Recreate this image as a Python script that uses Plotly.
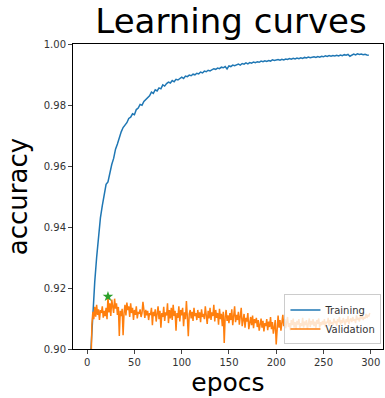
import plotly.graph_objects as go

train_epochs = list(range(0, 300, 2))
train_acc = [
    0.860, 0.885, 0.900, 0.912, 0.922, 0.930, 0.937, 0.943, 0.947, 0.951,
    0.954, 0.9548, 0.958, 0.9605, 0.9625, 0.9655, 0.9672, 0.9695, 0.9712, 0.9726,
    0.9735, 0.9742, 0.9756, 0.9760, 0.9771, 0.9768, 0.9785, 0.9790, 0.9802, 0.9799,
    0.9812, 0.9818, 0.9822, 0.9830, 0.9842, 0.9838, 0.9850, 0.9846, 0.9856, 0.9853,
    0.9866, 0.9862, 0.9870, 0.9875, 0.9872, 0.9880, 0.9876, 0.9884, 0.9882, 0.9888,
    0.9891, 0.9887, 0.9895, 0.9893, 0.9898, 0.9896, 0.9901, 0.9899, 0.9904, 0.9902,
    0.9908, 0.9905, 0.9911, 0.9909, 0.9914, 0.9912, 0.9916, 0.9919, 0.9917, 0.9921,
    0.9919, 0.9924, 0.9922, 0.9926, 0.9918, 0.9928, 0.9926, 0.9931, 0.9929, 0.9932,
    0.9934, 0.9931, 0.9936, 0.9934, 0.9938, 0.9935, 0.9939, 0.9937, 0.9941, 0.9939,
    0.9942, 0.9940, 0.9944, 0.9942, 0.9945, 0.9943, 0.9946, 0.9944, 0.9948, 0.9946,
    0.9947, 0.9949, 0.9947, 0.9950, 0.9948, 0.9951, 0.9949, 0.9952, 0.9950, 0.9953,
    0.9951, 0.9954, 0.9952, 0.9955, 0.9953, 0.9956, 0.9954, 0.9957, 0.9955, 0.9957,
    0.9958, 0.9956, 0.9959, 0.9957, 0.9960, 0.9958, 0.9961, 0.9959, 0.9962, 0.9960,
    0.9962, 0.9961, 0.9963, 0.9961, 0.9964, 0.9962, 0.9965, 0.9963, 0.9966, 0.9960,
    0.9965, 0.9967, 0.9964, 0.9968, 0.9966, 0.9967, 0.9965, 0.9966, 0.9964, 0.9963,
]

val_epochs = list(range(3, 300))
val_acc = [
    0.880, 0.897, 0.9080, 0.9122, 0.9098, 0.9138, 0.9106,
    0.9145, 0.9112, 0.9130, 0.9095, 0.9128, 0.9118, 0.9140, 0.9103, 0.9125, 0.9108,
    0.9135, 0.9098, 0.9172, 0.9120, 0.9150, 0.9108, 0.9162, 0.9140, 0.9118, 0.9165,
    0.9132, 0.9150, 0.9112, 0.9138, 0.9043, 0.9125, 0.9108, 0.9132, 0.9045, 0.9118,
    0.9145, 0.9110, 0.9152, 0.9128, 0.9140, 0.9105, 0.9150, 0.9118, 0.9135, 0.9095,
    0.9128, 0.9112, 0.9140, 0.9100, 0.9122, 0.9115, 0.9130, 0.9105, 0.9118, 0.9155,
    0.9120, 0.9102, 0.9128, 0.9110, 0.9125, 0.9095, 0.9118, 0.9112, 0.9135, 0.9078,
    0.9122, 0.9108, 0.9130, 0.9090, 0.9115, 0.9140, 0.9098, 0.9125, 0.9070, 0.9118,
    0.9105, 0.9138, 0.9092, 0.9120, 0.9110, 0.9150, 0.9085, 0.9128, 0.9100, 0.9135,
    0.9095, 0.9145, 0.9108, 0.9125, 0.9060, 0.9118, 0.9102, 0.9140, 0.9090, 0.9128,
    0.9110, 0.9135, 0.9075, 0.9120, 0.9098, 0.9157, 0.9105, 0.9042, 0.9115, 0.9128,
    0.9100, 0.9122, 0.9092, 0.9135, 0.9108, 0.9118, 0.9095, 0.9128, 0.9102, 0.9120,
    0.9088, 0.9130, 0.9105, 0.9115, 0.9098, 0.9140, 0.9110, 0.9082, 0.9125, 0.9100,
    0.9135, 0.9095, 0.9120, 0.9108, 0.9145, 0.9090, 0.9128, 0.9102, 0.9118, 0.9080,
    0.9132, 0.9098, 0.9115, 0.9075, 0.9122, 0.9020, 0.9105, 0.9128, 0.9092, 0.9110,
    0.9085, 0.9118, 0.9095, 0.9130, 0.9078, 0.9105, 0.9140, 0.9088, 0.9112, 0.9095,
    0.9122, 0.9080, 0.9108, 0.9135, 0.9075, 0.9098, 0.9115, 0.9070, 0.9102, 0.9090,
    0.9118, 0.9065, 0.9095, 0.9105, 0.9078, 0.9110, 0.9068, 0.9098, 0.9085, 0.9102,
    0.9072, 0.9095, 0.9060, 0.9088, 0.9100, 0.9070, 0.9092, 0.9058, 0.9085, 0.9075,
    0.9098, 0.9062, 0.9090, 0.9072, 0.9105, 0.9065, 0.9088, 0.9050, 0.9080, 0.9095,
    0.9015, 0.9085, 0.9110, 0.9070, 0.9095, 0.9060, 0.9088, 0.9112, 0.9075, 0.9098,
    0.9068, 0.9090, 0.9105, 0.9072, 0.9085, 0.9062, 0.9095, 0.9078, 0.9100, 0.9070,
    0.9088, 0.9065, 0.9092, 0.9080, 0.9098, 0.9068, 0.9085, 0.9075, 0.9102, 0.9070,
    0.9090, 0.9078, 0.9095, 0.9065, 0.9088, 0.9100, 0.9072, 0.9092, 0.9080, 0.9098,
    0.9075, 0.9090, 0.9068, 0.9095, 0.9082, 0.9100, 0.9070, 0.9088, 0.9078, 0.9092,
    0.9080, 0.9098, 0.9072, 0.9090, 0.9085, 0.9102, 0.9075, 0.9095, 0.9082, 0.9088,
    0.9078, 0.9100, 0.9085, 0.9092, 0.9075, 0.9098, 0.9088, 0.9105, 0.9080, 0.9095,
    0.9085, 0.9102, 0.9090, 0.9078, 0.9098, 0.9088, 0.9108, 0.9082, 0.9095, 0.9100,
    0.9088, 0.9105, 0.9092, 0.9098, 0.9085, 0.9110, 0.9095, 0.9102, 0.9090, 0.9108,
    0.9098, 0.9112, 0.9095, 0.9105, 0.9100, 0.9115, 0.9102, 0.9110, 0.9108, 0.9118,
]

best_epoch = [22]
best_acc = [0.9172]

x_ticks = [0, 50, 100, 150, 200, 250, 300]
y_ticks = [0.90, 0.92, 0.94, 0.96, 0.98, 1.00]

fig = go.Figure()
fig.add_trace(go.Scatter(x=train_epochs, y=train_acc, mode="lines", name="Training",
                         line=dict(color="#1f77b4", width=1.5)))
fig.add_trace(go.Scatter(x=val_epochs, y=val_acc, mode="lines", name="Validation",
                         line=dict(color="#ff7f0e", width=1.5)))
fig.add_trace(go.Scatter(x=best_epoch, y=best_acc, mode="markers", showlegend=False,
                         marker=dict(symbol="star", color="#2ca02c", size=8)))

fig.update_layout(
    width=385, height=398,
    margin=dict(l=73, r=2, t=44, b=49),
    paper_bgcolor="white", plot_bgcolor="white",
    font=dict(family="DejaVu Sans", color="#333333", size=10),
    title=dict(text="Learning curves", x=0.6, xanchor="center", xref="container",
               y=0.978, yanchor="top", yref="container",
               font=dict(size=34, color="black", family="DejaVu Sans")),
    legend=dict(x=0.995, xanchor="right", y=0.015, yanchor="bottom",
                bgcolor="rgba(255,255,255,0.8)", bordercolor="#cccccc", borderwidth=1,
                font=dict(size=10, color="#333333"), itemwidth=30,
                tracegroupgap=0),
    showlegend=True,
)
fig.update_xaxes(range=[-15, 313], tickvals=x_ticks, ticks="outside", ticklen=4,
                 showline=True, linecolor="black", linewidth=1, mirror=True,
                 showgrid=False, zeroline=False,
                 title=dict(text="epocs", font=dict(size=25, color="black"), standoff=6))
fig.update_yaxes(range=[0.90, 1.00], tickvals=y_ticks, tickformat=".2f", ticks="outside",
                 ticklen=4, showline=True, linecolor="black", linewidth=1, mirror=True,
                 showgrid=False, zeroline=False,
                 title=dict(text="accuracy", font=dict(size=26, color="black"), standoff=8))

fig.write_html("out.html")
